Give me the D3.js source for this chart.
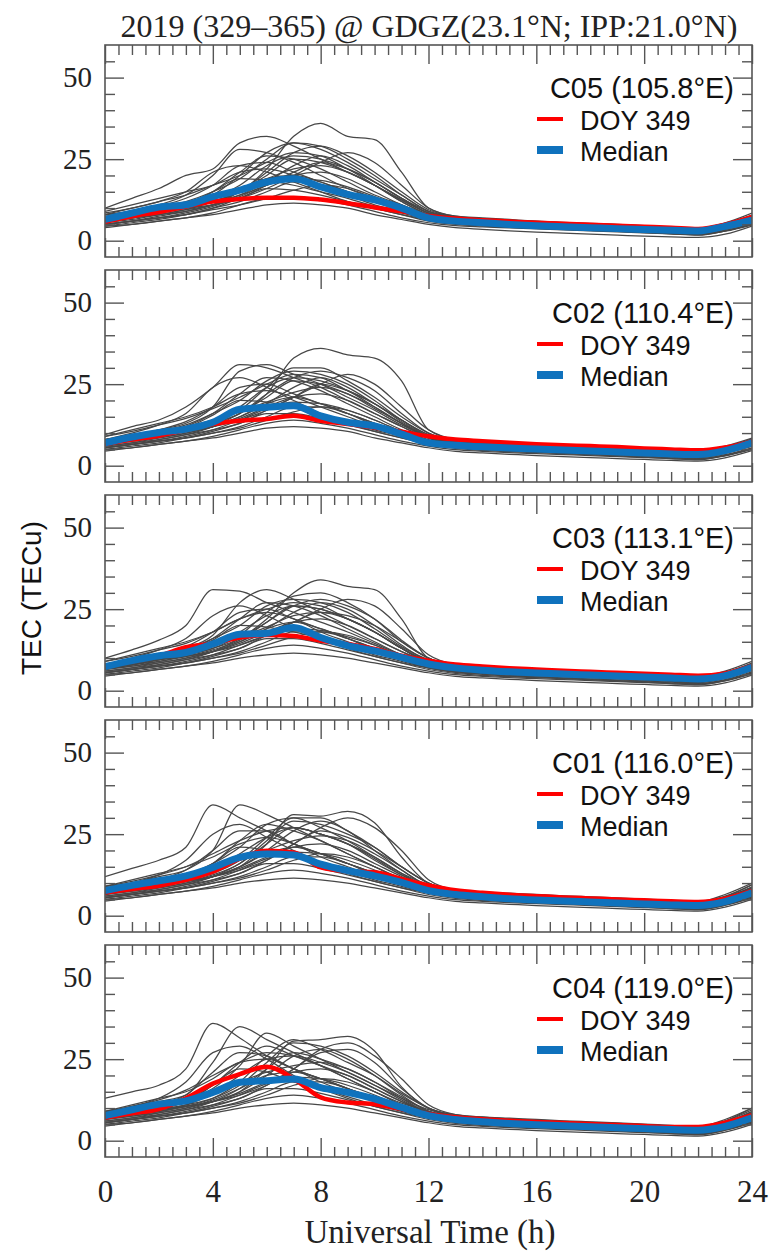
<!DOCTYPE html>
<html>
<head>
<meta charset="utf-8">
<script src="https://cdn.jsdelivr.net/npm/d3@7"></script>
<style>
  body { margin: 0; background: #fff; }
  .serif { font-family: "Liberation Serif", "DejaVu Serif", serif; fill: #222; }
  .sans { font-family: "Liberation Sans", Arial, sans-serif; fill: #111; }
</style>
</head>
<body>
<svg id="chart" width="771" height="1252"></svg>
<script>

// UT hour of every sample
const hours = [0,1,2,3,4,5,6,7,8,9,10,11,12,13,14,15,16,17,18,19,20,21,22,23,24];

const satLabels = ["C05 (105.8°E)", "C02 (110.4°E)", "C03 (113.1°E)", "C01 (116.0°E)", "C04 (119.0°E)"];
const xMajor = [0,4,8,12,16,20,24];
const xMinor = [0.5,1,1.5,2,2.5,3,3.5,4.5,5,5.5,6,6.5,7,7.5,8.5,9,9.5,10,10.5,11,11.5,12.5,13,13.5,14,14.5,15,15.5,16.5,17,17.5,18,18.5,19,19.5,20.5,21,21.5,22,22.5,23,23.5];
const yMajor = [0,25,50];
const yMinor = [5,10,15,20,30,35,40,45,55];

// ---- C05 ----
const grayC05 = [
  [7,8,9,10.5,12,15,22,32,36,32,31,21,10,7.5,7,6.5,6,5.6,5.3,5,4.6,4.2,3.8,5.5,8.5],
  [10,13,16,20,22,30,32,29,25,21,17,12.5,8.5,7,6.5,6,5.5,5.2,5,4.7,4.3,4,3.6,5.2,7.8],
  [7,8,9.5,11,14,20,27,30,28,24,19,14,9,7,6,5.6,5.2,4.8,4.5,4.2,3.8,3.4,3,4.5,6.8],
  [6,7,8.5,10,12,15,21,27,29,26,21,15,9.5,7.3,6.5,6,5.6,5.2,4.9,4.5,4.1,3.7,3.3,4.8,7.2],
  [8,9,11,14,20,28,27,24,20,16,13,10,7.5,6,5.4,5,4.6,4.3,4,3.7,3.4,3,2.6,4,6.4],
  [6.5,7.5,9,11,15,21,26,25,22,18,14,11,8,6.5,5.8,5.3,4.9,4.6,4.3,4,3.6,3.2,2.8,4.2,6.6],
  [5,6,7.5,9,11,15,20,25,24,21,17,12,8,6.2,5.5,5,4.6,4.2,3.9,3.6,3.2,2.8,2.4,3.6,5.8],
  [6,7,8,9,11,13,17,21,24,22,18,13,9,7,6.2,5.7,5.3,5,4.7,4.4,4,3.6,3.2,4.6,7],
  [9,11,13,15,17,21,22,20,17,14,11,9,7,6,5.5,5.1,4.8,4.5,4.2,3.9,3.5,3.1,2.7,4.1,6.5],
  [5.5,6.5,8,9.5,12,15,19,20,18,15,12,9.5,7,5.8,5.2,4.8,4.4,4.1,3.8,3.5,3.1,2.7,2.3,3.5,5.6],
  [5,6,7,8,10,12,15,18,17,15,12,9,6.5,5.3,4.7,4.3,4,3.7,3.4,3.1,2.8,2.4,2,3.2,5.2],
  [4.5,5.5,6.5,8,10,13,16,15.5,14,12,10,8,6,5,4.5,4.1,3.8,3.5,3.2,2.9,2.6,2.2,1.9,3,5],
  [4.5,5,6,7,8.5,11,13,13.5,12.5,11,9,7,5.5,4.6,4.2,3.9,3.6,3.3,3,2.7,2.4,2.1,1.8,2.9,4.8],
  [4,5,6,7,8,9.5,11,11.5,11,10,8,6.5,5,4,3.5,3,2.6,2.3,2,1.7,1.4,1.2,1,2,4.5],
  [7,8,9,10,11,13,16,20,24,27,24,17,10,7.5,6.8,6.3,5.9,5.5,5.2,4.9,4.5,4.1,3.7,5.2,7.8],
  [8,10,12,15,21,23,21,18,15,12,10,8,6.5,5.6,5.1,4.7,4.4,4.1,3.8,3.5,3.2,2.8,2.4,3.8,6],
  [6,7,8,9.5,11,14,18,23,26,23,18,13,8.5,6.8,6,5.5,5.1,4.8,4.5,4.2,3.8,3.4,3,4.4,6.9],
  [7,8,9,10.5,12,14,17,20,21,19,15,11,8,6.5,5.9,5.4,5,4.7,4.4,4.1,3.7,3.3,2.9,4.3,6.7],
  [6,7.5,9,11,15,19,18.5,17,15,13,10.5,8.5,6.5,5.5,5,4.6,4.3,4,3.7,3.4,3.1,2.7,2.3,3.7,6],
  [5,6,7,8,9.5,11,13,15.5,17,16,13,10,7,5.8,5.2,4.8,4.5,4.2,3.9,3.6,3.3,2.9,2.5,3.8,6.1],
  [8,9,10,12,15,19,25,30,29,25,20,14,9,7.2,6.5,6,5.6,5.2,4.9,4.6,4.2,3.8,3.4,4.9,7.4],
  [7,8.5,10.5,13,17,23,24,21,18,15,12,9.5,7,6,5.4,5,4.6,4.3,4,3.7,3.3,2.9,2.5,4,6.3],
  [6.5,7.5,9,10.5,13,17,23,26,25,22,17,12,8,6.4,5.8,5.3,4.9,4.6,4.3,4,3.6,3.2,2.8,4.2,6.6],
  [7.5,8.5,10,11.5,13.5,16,19,22,23,21,17,12.5,8.5,6.8,6.1,5.6,5.2,4.9,4.6,4.3,3.9,3.5,3.1,4.5,7],
  [5,6,7,8.5,10.5,13.5,17,19,18.5,16.5,13.5,10,7,5.5,4.9,4.4,4,3.6,3.2,2.9,2.5,2.1,1.7,3,5.2],
  [8.5,10,12,14,17,20,24,27,26,22,18,13,8.5,7,6.3,5.8,5.4,5.1,4.8,4.5,4.1,3.7,3.3,4.8,7.2]
];
const medianC05 = [6.5,8.5,10.3,11,13.5,15.5,18,19,16.5,14.2,12.5,10,7,6,5.5,5,4.6,4.3,4,3.7,3.4,3.2,3,4.4,6.3];
const doyC05 = [5.8,7.5,8.8,10.5,12,12.8,13.2,13.2,12.6,11.5,10.2,9,7.6,6.8,6.3,5.9,5.5,5.2,4.9,4.6,4.3,4,3.6,4.9,7.3];

// ---- C02 ----
const grayC02 = [
  [8,9,10,11,13,16,22,33,36,34,33,26,11,8,7.2,6.8,6.4,6,5.7,5.4,5,4.6,4.2,6,8.5],
  [9.5,12,14,18,24,31,30,27,24,20,16,12,8.5,7.2,6.6,6.2,5.8,5.5,5.2,4.9,4.5,4.1,3.7,5.4,8],
  [8,9,11,13,18,29,31,28,25,21,17,12.5,9,7.2,6.5,6,5.6,5.3,5,4.7,4.3,3.9,3.5,5,7.4],
  [6.5,7.5,9,10.5,13,17,24,30,30,26,21,15,10,7.6,6.8,6.3,5.9,5.5,5.2,4.9,4.5,4.1,3.7,5.2,7.6],
  [7,8,9.5,11,13,16,22,27,29,27,23,16,10,7.5,6.7,6.2,5.8,5.4,5.1,4.8,4.4,4,3.6,5,7.3],
  [7,8,10,12,16,22,27,26,23,19,15,11,8,6.6,6,5.5,5.1,4.8,4.5,4.2,3.8,3.4,3,4.5,6.8],
  [5.5,6.5,8,9.5,12,16,21,26,25,22,18,13,8.5,6.6,5.9,5.4,5,4.6,4.3,4,3.6,3.2,2.8,4,6.2],
  [6,7,8,9.5,11,13,17,21,25,23,19,14,9.5,7.2,6.4,5.9,5.5,5.1,4.8,4.5,4.1,3.7,3.3,4.7,7],
  [9,11,13,15,18,22,23,21,18,15,12,9.5,7.5,6.3,5.7,5.3,5,4.7,4.4,4.1,3.7,3.3,2.9,4.3,6.7],
  [6,7,8.5,10,12,15,19,21,19,16,13,10,7.5,6.1,5.5,5,4.6,4.3,4,3.7,3.3,2.9,2.5,3.8,5.9],
  [5.5,6.5,7.5,8.5,10,12,15,18,18,16,13,9.5,7,5.6,5,4.5,4.2,3.9,3.6,3.3,3,2.6,2.2,3.4,5.5],
  [5,6,7,8.5,10.5,13,16,16,14.5,12.5,10.5,8.5,6.5,5.3,4.7,4.3,4,3.7,3.4,3.1,2.8,2.4,2.1,3.2,5.2],
  [5,5.5,6.5,7.5,9,11,13,14,13,11.5,9.5,7.5,6,4.9,4.4,4,3.7,3.4,3.1,2.8,2.5,2.2,1.9,3,5],
  [4.5,5.5,6.5,7.5,8.5,10,11.5,12,11.5,10.5,8.5,7,5.5,4.4,3.9,3.5,3.1,2.8,2.5,2.2,1.9,1.6,1.4,2.4,4.6],
  [7.5,8.5,9.5,10.5,12,14,17,21,25,28,25,18,11,8,7.2,6.7,6.3,5.9,5.6,5.3,4.9,4.5,4.1,5.6,8.2],
  [8,10,12.5,16,24,27,24,20,16,13,10.5,8.5,7,5.9,5.4,5,4.7,4.4,4.1,3.8,3.5,3.1,2.7,4.1,6.4],
  [6.5,7.5,8.5,10,12,15,19,24,27,24,19,14,9,7.1,6.3,5.8,5.4,5.1,4.8,4.5,4.1,3.7,3.3,4.7,7.1],
  [7,8,9,10.5,12,14.5,18,21,22,20,16,12,8.5,6.8,6.2,5.7,5.3,5,4.7,4.4,4,3.6,3.2,4.6,6.9],
  [6.5,8,9.5,11.5,15.5,20,19.5,18,16,13.5,11,9,7,5.8,5.3,4.9,4.6,4.3,4,3.7,3.3,2.9,2.5,3.9,6.2],
  [5.5,6.5,7.5,8.5,10,11.5,14,16.5,18,17,14,10.5,7.5,6.1,5.5,5.1,4.8,4.5,4.2,3.9,3.5,3.1,2.7,4,6.3],
  [8,9,10.5,12.5,16,20,26,29,28,25,20,14,9.5,7.5,6.8,6.3,5.9,5.5,5.2,4.9,4.5,4.1,3.7,5.2,7.6],
  [7.5,9,11,13.5,18,24,25,22,19,16,12.5,10,7.5,6.3,5.7,5.3,4.9,4.6,4.3,4,3.6,3.2,2.8,4.3,6.6],
  [7,8,9.5,11,13.5,18,24,27,26,23,18,13,8.5,6.8,6.1,5.6,5.2,4.9,4.6,4.3,3.9,3.5,3.1,4.5,6.9],
  [8,9,10.5,12,14,16.5,19.5,22.5,24,22,17.5,13,9,7.2,6.5,6,5.6,5.2,4.9,4.6,4.2,3.8,3.4,4.8,7.3],
  [5.5,6.5,7.5,9,11,14,17.5,19.5,19,17,14,10.5,7.5,5.9,5.2,4.7,4.2,3.8,3.4,3,2.6,2.2,1.8,3.1,5.3],
  [9,10.5,12.5,14.5,17.5,21,25,28,27,23,19,13.5,9,7.4,6.7,6.2,5.8,5.4,5.1,4.8,4.4,4,3.6,5.1,7.5]
];
const medianC02 = [7,8.8,10.2,11.2,13.3,17.3,17.9,18.4,15.3,13.3,12.2,9.7,7,6.3,5.8,5.4,5.1,4.8,4.5,4.2,3.9,3.6,3.4,4.6,7];
const doyC02 = [6.6,8,9.2,11,12.8,13.8,14.3,15.3,13.8,12.8,11.7,10.4,9,8,7.5,7,6.6,6.3,6,5.7,5.3,5,4.7,5.6,7.4];

// ---- C03 ----
const grayC03 = [
  [7.5,8.5,9.5,11,13,16,22,30,34,32,31,22,10,8,7.2,6.8,6.4,6,5.7,5.4,5,4.6,4.2,6,9],
  [10,12.5,15.5,20,31,30.5,27,24,21,18,14.5,11,8.5,7.2,6.6,6.2,5.8,5.5,5.2,4.9,4.5,4.1,3.7,5.4,8.4],
  [8,9,11,13,17,27,31,28,24,20,16,12,9,7.2,6.5,6,5.6,5.3,5,4.7,4.3,3.9,3.5,5,7.6],
  [7,8,9.5,11,13,17,24,29,30,27,22,15,10,7.6,6.8,6.3,5.9,5.5,5.2,4.9,4.5,4.1,3.7,5.2,7.8],
  [6.5,7.5,9,10.5,12.5,15.5,21,26,28,26,22,15.5,10,7.5,6.7,6.2,5.8,5.4,5.1,4.8,4.4,4,3.6,5,7.3],
  [7,8,10,12,16,22,27,26,23,19,15,11,8,6.6,6,5.5,5.1,4.8,4.5,4.2,3.8,3.4,3,4.5,7],
  [5.5,6.5,8,9.5,12,16,21,26,25,22,18,13,8.5,6.6,5.9,5.4,5,4.6,4.3,4,3.6,3.2,2.8,4,6.5],
  [6,7,8,9.5,11,13,17,21,24,23,20,15,10,7.2,6.4,5.9,5.5,5.1,4.8,4.5,4.1,3.7,3.3,4.7,7.2],
  [9,11,13,15,18,22,24,22,18,15,12,9.5,7.5,6.3,5.7,5.3,5,4.7,4.4,4.1,3.7,3.3,2.9,4.3,7],
  [6,7,8.5,10,12,15,19,21,19,16,13,10,7.5,6.1,5.5,5,4.6,4.3,4,3.7,3.3,2.9,2.5,3.8,6.2],
  [5.5,6.5,7.5,8.5,10,12,15,18,18,16,13,9.5,7,5.6,5,4.5,4.2,3.9,3.6,3.3,3,2.6,2.2,3.4,5.8],
  [5,6,7,8.5,10.5,13,16,16,14.5,12.5,10.5,8.5,6.5,5.3,4.7,4.3,4,3.7,3.4,3.1,2.8,2.4,2.1,3.2,5.5],
  [5,5.5,6.5,7.5,9,11,13,14,13,11.5,9.5,7.5,6,4.9,4.4,4,3.7,3.4,3.1,2.8,2.5,2.2,1.9,3,5.2],
  [4.5,5.5,6.5,7.5,8.5,10,11,11.5,11,10,8.5,7,5.5,4.4,3.9,3.5,3.1,2.8,2.5,2.2,1.9,1.6,1.4,2.4,4.8],
  [7.5,8.5,9.5,10.5,12,14,17,21,25,28,26,19,11,8,7.2,6.7,6.3,5.9,5.6,5.3,4.9,4.5,4.1,5.6,8.5],
  [8,10,12.5,16,23,26,23,19,16,13,10.5,8.5,7,5.9,5.4,5,4.7,4.4,4.1,3.8,3.5,3.1,2.7,4.1,6.7],
  [6.5,7.5,8.5,10,12,15,19,24,27,25,20,14,9,7.1,6.3,5.8,5.4,5.1,4.8,4.5,4.1,3.7,3.3,4.7,7.3],
  [7,8,9,10.5,12,14.5,18,21,22,20,16,12,8.5,6.8,6.2,5.7,5.3,5,4.7,4.4,4,3.6,3.2,4.6,7.1],
  [6.5,8,9.5,11.5,15.5,20,19.5,18,16,13.5,11,9,7,5.8,5.3,4.9,4.6,4.3,4,3.7,3.3,2.9,2.5,3.9,6.5],
  [5.5,6.5,7.5,8.5,10,11.5,14,16.5,18,17,14,10.5,7.5,6.1,5.5,5.1,4.8,4.5,4.2,3.9,3.5,3.1,2.7,4,6.5],
  [8,9,10.5,12.5,16,20,26,28,27,24,19,13.5,9.5,7.5,6.8,6.3,5.9,5.5,5.2,4.9,4.5,4.1,3.7,5.2,7.9],
  [7.5,9,11,13.5,18,24,25,22,19,16,12.5,10,7.5,6.3,5.7,5.3,4.9,4.6,4.3,4,3.6,3.2,2.8,4.3,6.8],
  [7,8,9.5,11,13.5,18,23,26,25,22,18,13,8.5,6.8,6.1,5.6,5.2,4.9,4.6,4.3,3.9,3.5,3.1,4.5,7.1],
  [8,9,10.5,12,14,16.5,19.5,23,24,22,18,13,9,7.2,6.5,6,5.6,5.2,4.9,4.6,4.2,3.8,3.4,4.8,7.5],
  [5.5,6.5,7.5,9,11,14,17,19,18.5,16.5,14,10.5,7.5,5.9,5.2,4.7,4.2,3.8,3.4,3,2.6,2.2,1.8,3.1,5.5],
  [9,10.5,12.5,14.5,18,22,25,27,26,22,18,13,9,7.4,6.7,6.2,5.8,5.4,5.1,4.8,4.4,4,3.6,5.1,7.8]
];
const medianC03 = [7.4,9.2,10.7,11.7,14.3,17.3,17.6,19.4,16.3,13.8,12.2,10.2,8.2,7,6.3,5.8,5.4,5.1,4.8,4.5,4.2,3.9,3.6,4.6,7.2];
const doyC03 = [7.6,9,10.7,13.3,14.5,16.3,17.1,16.8,15.3,14.3,12.8,10.7,9.2,8,7.4,6.9,6.5,6.1,5.8,5.5,5.2,4.9,4.6,5.3,7.6];

// ---- C01 ----
const grayC01 = [
  [7,8,9,10.5,12,15,22,31,30.5,32,28.5,18,10,8,7.3,6.9,6.5,6.1,5.8,5.5,5.1,4.7,4.3,6.5,10],
  [12,14.5,17,21,34,30,26,22,19,16,13,10.5,8.5,7.2,6.6,6.2,5.8,5.5,5.2,4.9,4.5,4.1,3.7,5.8,9.5],
  [9,10,12,14,20,34,31,27,23,19,15,11.5,9,7.2,6.5,6,5.6,5.3,5,4.7,4.3,3.9,3.5,5.3,8.5],
  [7,8,9.5,11,13,17,24,30,30,26,21,15,10,7.6,6.8,6.3,5.9,5.5,5.2,4.9,4.5,4.1,3.7,5.6,8.8],
  [6.5,7.5,9,10.5,12.5,16,23,29,28,25,21,15,10,7.5,6.7,6.2,5.8,5.4,5.1,4.8,4.4,4,3.6,5.3,8],
  [7,8,10,12,16,23,28,26,23,19,15,11,8,6.6,6,5.5,5.1,4.8,4.5,4.2,3.8,3.4,3,4.8,7.5],
  [5.5,6.5,8,9.5,12,16,22,27,25,22,18,13,8.5,6.6,5.9,5.4,5,4.6,4.3,4,3.6,3.2,2.8,4.3,7],
  [6,7,8,9.5,11,13,17,22,26,24,20,15,10,7.2,6.4,5.9,5.5,5.1,4.8,4.5,4.1,3.7,3.3,5,7.8],
  [9,11,13,15,18,22,24,22,18,15,12,9.5,7.5,6.3,5.7,5.3,5,4.7,4.4,4.1,3.7,3.3,2.9,4.6,7.5],
  [6,7,8.5,10,12,15,19,21,19,16,13,10,7.5,6.1,5.5,5,4.6,4.3,4,3.7,3.3,2.9,2.5,4,6.6],
  [5.5,6.5,7.5,8.5,10,12,15,18,18,16,13,9.5,7,5.6,5,4.5,4.2,3.9,3.6,3.3,3,2.6,2.2,3.6,6],
  [5,6,7,8.5,10.5,13,16,16,14.5,12.5,10.5,8.5,6.5,5.3,4.7,4.3,4,3.7,3.4,3.1,2.8,2.4,2.1,3.4,5.7],
  [5,5.5,6.5,7.5,9,11,13,14,13,11.5,9.5,7.5,6,4.9,4.4,4,3.7,3.4,3.1,2.8,2.5,2.2,1.9,3.2,5.4],
  [4.5,5.5,6.5,7.5,8.5,10,11,11.5,11,10,8.5,7,5.5,4.4,3.9,3.5,3.1,2.8,2.5,2.2,1.9,1.6,1.4,2.6,5],
  [7.5,8.5,9.5,10.5,12,14,17,22,27,30,27,20,11,8,7.2,6.7,6.3,5.9,5.6,5.3,4.9,4.5,4.1,6,9.5],
  [8,10,12.5,17,25,28,24,20,16,13,10.5,8.5,7,5.9,5.4,5,4.7,4.4,4.1,3.8,3.5,3.1,2.7,4.3,7],
  [6.5,7.5,8.5,10,12,15,20,26,29,26,20,14,9,7.1,6.3,5.8,5.4,5.1,4.8,4.5,4.1,3.7,3.3,5,7.8],
  [7,8,9,10.5,12,14.5,18,21,22,20,16,12,8.5,6.8,6.2,5.7,5.3,5,4.7,4.4,4,3.6,3.2,4.8,7.4],
  [6.5,8,9.5,11.5,16,21,20,18,16,13.5,11,9,7,5.8,5.3,4.9,4.6,4.3,4,3.7,3.3,2.9,2.5,4.1,6.8],
  [5.5,6.5,7.5,8.5,10,11.5,14,17,19,18,15,11,7.5,6.1,5.5,5.1,4.8,4.5,4.2,3.9,3.5,3.1,2.7,4.2,6.9],
  [8,9,10.5,12.5,16,21,28,30,27,23,18,13,9.5,7.5,6.8,6.3,5.9,5.5,5.2,4.9,4.5,4.1,3.7,5.6,8.8],
  [7.5,9,11,14,20,26,26,22,19,16,12.5,10,7.5,6.3,5.7,5.3,4.9,4.6,4.3,4,3.6,3.2,2.8,4.5,7.2],
  [7,8,9.5,11,14,19,24,27,25,22,17.5,12.5,8.5,6.8,6.1,5.6,5.2,4.9,4.6,4.3,3.9,3.5,3.1,4.8,7.6],
  [8,9,10.5,12,14.5,17,20,23,24.5,23,19,14,9,7.2,6.5,6,5.6,5.2,4.9,4.6,4.2,3.8,3.4,5.2,8.2],
  [5.5,6.5,7.5,9,11,14,17.5,19.5,19,17,14,10.5,7.5,5.9,5.2,4.7,4.2,3.8,3.4,3,2.6,2.2,1.8,3.2,5.8],
  [9,10.5,12.5,15,19,23,26,27,25,22,17,12.5,9,7.4,6.7,6.2,5.8,5.4,5.1,4.8,4.4,4,3.6,5.4,8.5]
];
const medianC01 = [7.7,9.3,10.7,12.2,14.8,17.9,18.9,18.6,15.8,13.8,12.2,10.2,7.7,6.5,5.8,5.2,4.8,4.5,4.2,3.9,3.6,3.3,3.1,4.3,7];
const doyC01 = [7.1,8.2,9.2,11,13.5,17.5,19.9,19.4,14.8,13.6,13.3,11.3,9.3,7.8,7,6.4,6,5.6,5.3,5,4.7,4.4,4.2,5.2,7.6];

// ---- C04 ----
const grayC04 = [
  [7,8,9,10.5,12,15,22,30.5,31,32,27.5,16.5,10,8,7.3,6.9,6.5,6.1,5.8,5.5,5.1,4.7,4.3,6.5,10],
  [13,15,17,22,36,31.5,26,22,19,16,13,10.5,8.5,7.2,6.6,6.2,5.8,5.5,5.2,4.9,4.5,4.1,3.7,6,10],
  [9,10,12,14,24,35,31,27,23,19,15,11.5,9,7.2,6.5,6,5.6,5.3,5,4.7,4.3,3.9,3.5,5.3,8.5],
  [7,8,9.5,11,13,17,24,30,29,26,21,15,10,7.6,6.8,6.3,5.9,5.5,5.2,4.9,4.5,4.1,3.7,5.6,9],
  [6.5,7.5,9,10.5,13,18,26,31,28,24,20,14.5,10,7.5,6.7,6.2,5.8,5.4,5.1,4.8,4.4,4,3.6,5.3,8.2],
  [7,8,10,12,17,24,29,26,23,19,15,11,8,6.6,6,5.5,5.1,4.8,4.5,4.2,3.8,3.4,3,4.8,7.6],
  [5.5,6.5,8,9.5,12,16,22,27,25,22,18,13,8.5,6.6,5.9,5.4,5,4.6,4.3,4,3.6,3.2,2.8,4.3,7],
  [6,7,8,9.5,11,13,17,22,27,28,24,16,10,7.2,6.4,5.9,5.5,5.1,4.8,4.5,4.1,3.7,3.3,5,7.8],
  [9,11,13,15,19,24,25,22,18,15,12,9.5,7.5,6.3,5.7,5.3,5,4.7,4.4,4.1,3.7,3.3,2.9,4.6,7.5],
  [6,7,8.5,10,12.5,16,20,21,19,16,13,10,7.5,6.1,5.5,5,4.6,4.3,4,3.7,3.3,2.9,2.5,4,6.6],
  [5.5,6.5,7.5,8.5,10,12,15,18,18,16,13,9.5,7,5.6,5,4.5,4.2,3.9,3.6,3.3,3,2.6,2.2,3.6,6],
  [5,6,7,8.5,10.5,13,16,16,14.5,12.5,10.5,8.5,6.5,5.3,4.7,4.3,4,3.7,3.4,3.1,2.8,2.4,2.1,3.4,5.7],
  [5,5.5,6.5,7.5,9,11,13,14,13,11.5,9.5,7.5,6,4.9,4.4,4,3.7,3.4,3.1,2.8,2.5,2.2,1.9,3.2,5.4],
  [4.5,5.5,6.5,7.5,8.5,10,11,11.5,11,10,8.5,7,5.5,4.4,3.9,3.5,3.1,2.8,2.5,2.2,1.9,1.6,1.4,2.6,5],
  [7.5,8.5,9.5,10.5,12,14,17,22,28,30,26,19,11,8,7.2,6.7,6.3,5.9,5.6,5.3,4.9,4.5,4.1,6,9.5],
  [8.5,10.5,13,18,27,29,25,20,16,13,10.5,8.5,7,5.9,5.4,5,4.7,4.4,4.1,3.8,3.5,3.1,2.7,4.3,7],
  [6.5,7.5,8.5,10,12,15,20,26,28,25,20,14,9,7.1,6.3,5.8,5.4,5.1,4.8,4.5,4.1,3.7,3.3,5,7.8],
  [7,8,9,10.5,12,14.5,18,21,22,20,16,12,8.5,6.8,6.2,5.7,5.3,5,4.7,4.4,4,3.6,3.2,4.8,7.4],
  [6.5,8,9.5,12,17,22,21,18,16,13.5,11,9,7,5.8,5.3,4.9,4.6,4.3,4,3.7,3.3,2.9,2.5,4.1,6.8],
  [5.5,6.5,7.5,8.5,10,11.5,14,17,19,18,15,11,7.5,6.1,5.5,5.1,4.8,4.5,4.2,3.9,3.5,3.1,2.7,4.2,6.9],
  [8,9,10.5,12.5,16,23,33,29,25,21,17,13,9.5,7.5,6.8,6.3,5.9,5.5,5.2,4.9,4.5,4.1,3.7,5.6,8.8],
  [7.5,9,11,14,21,27,26,22,19,16,12.5,10,7.5,6.3,5.7,5.3,4.9,4.6,4.3,4,3.6,3.2,2.8,4.5,7.2],
  [7,8,9.5,11,14.5,20,25,26,24,21,17,12.5,8.5,6.8,6.1,5.6,5.2,4.9,4.6,4.3,3.9,3.5,3.1,4.8,7.6],
  [8,9,10.5,12,15,18,21,23,24,22,18,13.5,9,7.2,6.5,6,5.6,5.2,4.9,4.6,4.2,3.8,3.4,5.2,8.2],
  [5.5,6.5,7.5,9,11,14,17.5,19.5,19,17,14,10.5,7.5,5.9,5.2,4.7,4.2,3.8,3.4,3,2.6,2.2,1.8,3.2,5.8],
  [9,10.5,12.5,15.5,20,24,27,26,23,20,16,12,9,7.4,6.7,6.2,5.8,5.4,5.1,4.8,4.4,4,3.6,5.4,8.5]
];
const medianC04 = [7.7,9.5,11.2,12.2,14.8,17.9,18.4,18.9,16.3,14.8,12.8,10.2,7.7,6.5,5.8,5.3,4.9,4.6,4.3,4,3.7,3.4,3.2,4.4,7];
const doyC04 = [7.1,8.4,9.7,13,17.5,20.4,22.7,19,13.3,11.7,11.2,9.7,8.2,7.2,6.6,6.1,5.7,5.4,5.1,4.8,4.5,4.2,4.2,5.5,7.8];

const panels = [
  { label: satLabels[0], gray: grayC05, median: medianC05, doy: doyC05 },
  { label: satLabels[1], gray: grayC02, median: medianC02, doy: doyC02 },
  { label: satLabels[2], gray: grayC03, median: medianC03, doy: doyC03 },
  { label: satLabels[3], gray: grayC01, median: medianC01, doy: doyC01 },
  { label: satLabels[4], gray: grayC04, median: medianC04, doy: doyC04 }
];

const svg = d3.select("#chart");
const left = 105, right = 752;
const top0 = 45, panelH = 212, pitch = 225;
const frameColor = "#555";

const x = d3.scaleLinear().domain([0, 24]).range([left, right]);
const y = d3.scaleLinear().domain([-5, 60]).range([panelH, 0]);

const line = d3.line()
  .x((d, i) => x(hours[i]))
  .y(d => y(d))
  .curve(d3.curveMonotoneX);

function styleAxis(g) {
  g.select(".domain").remove();
  g.selectAll(".tick line").attr("stroke", frameColor).attr("stroke-width", 1.4);
}

panels.forEach((p, k) => {
  const g = svg.append("g").attr("transform", "translate(0," + (top0 + k * pitch) + ")");

  g.append("clipPath").attr("id", "clip" + k)
    .append("rect").attr("x", left).attr("y", 0).attr("width", right - left).attr("height", panelH);

  const plot = g.append("g").attr("clip-path", "url(#clip" + k + ")");

  plot.selectAll("path.day").data(p.gray).join("path")
    .attr("class", "day")
    .attr("d", line)
    .attr("fill", "none")
    .attr("stroke", "#474747")
    .attr("stroke-width", 1.25);

  plot.append("path").datum(p.doy)
    .attr("d", line).attr("fill", "none")
    .attr("stroke", "#ff0000").attr("stroke-width", 4.5);

  plot.append("path").datum(p.median)
    .attr("d", line).attr("fill", "none")
    .attr("stroke", "#0f72bd").attr("stroke-width", 7);

  // ticks, all pointing inward
  g.append("g").attr("transform", "translate(0," + panelH + ")")
    .call(d3.axisBottom(x).tickValues(xMinor).tickSize(-10).tickFormat("")).call(styleAxis);
  g.append("g")
    .call(d3.axisTop(x).tickValues(xMinor).tickSize(-10).tickFormat("")).call(styleAxis);
  g.append("g")
    .call(d3.axisTop(x).tickValues(xMajor).tickSize(-19).tickFormat("")).call(styleAxis);
  const bottomMajor = g.append("g").attr("transform", "translate(0," + panelH + ")")
    .call(d3.axisBottom(x).tickValues(xMajor).tickSize(-19).tickPadding(23)
      .tickFormat(k === panels.length - 1 ? d3.format("d") : ""))
    .call(styleAxis);
  bottomMajor.attr("font-size", null).attr("font-family", null);
  bottomMajor.selectAll("text").attr("class", "serif").style("font-size", "31px");

  g.append("g").attr("transform", "translate(" + left + ",0)")
    .call(d3.axisLeft(y).tickValues(yMinor).tickSize(-10).tickFormat("")).call(styleAxis);
  const leftMajor = g.append("g").attr("transform", "translate(" + left + ",0)")
    .call(d3.axisLeft(y).tickValues(yMajor).tickSize(-19).tickPadding(13).tickFormat(d3.format("d")))
    .call(styleAxis);
  leftMajor.attr("font-size", null).attr("font-family", null);
  leftMajor.selectAll("text").attr("class", "serif").style("font-size", "29px");

  g.append("g").attr("transform", "translate(" + right + ",0)")
    .call(d3.axisRight(y).tickValues(yMinor).tickSize(-10).tickFormat("")).call(styleAxis);
  g.append("g").attr("transform", "translate(" + right + ",0)")
    .call(d3.axisRight(y).tickValues(yMajor).tickSize(-19).tickFormat("")).call(styleAxis);

  g.append("rect")
    .attr("x", left).attr("y", 0).attr("width", right - left).attr("height", panelH)
    .attr("fill", "none").attr("stroke", frameColor).attr("stroke-width", 1.6);

  // legend (rows spaced so the text boxes do not collide)
  g.append("text").attr("class", "sans")
    .attr("x", 734).attr("y", 53).attr("text-anchor", "end")
    .style("font-size", "29px").text(p.label);
  g.append("line").attr("x1", 537).attr("x2", 563).attr("y1", 74).attr("y2", 74)
    .attr("stroke", "#ff0000").attr("stroke-width", 4);
  g.append("text").attr("class", "sans").attr("x", 580).attr("y", 84.5)
    .style("font-size", "27px").text("DOY 349");
  g.append("line").attr("x1", 537).attr("x2", 563).attr("y1", 105).attr("y2", 105)
    .attr("stroke", "#0f72bd").attr("stroke-width", 8);
  g.append("text").attr("class", "sans").attr("x", 580).attr("y", 115.5)
    .style("font-size", "27px").text("Median");
});

svg.append("text").attr("class", "serif")
  .attr("x", 429).attr("y", 37).attr("text-anchor", "middle")
  .style("font-size", "32px")
  .text("2019 (329–365) @ GDGZ(23.1°N; IPP:21.0°N)");

svg.append("text").attr("class", "serif")
  .attr("x", 430).attr("y", 1243).attr("text-anchor", "middle")
  .style("font-size", "33px")
  .text("Universal Time (h)");

svg.append("text").attr("class", "sans")
  .attr("transform", "translate(41,598) rotate(-90)")
  .attr("text-anchor", "middle")
  .style("font-size", "28px")
  .text("TEC (TECu)");

</script>
</body>
</html>
